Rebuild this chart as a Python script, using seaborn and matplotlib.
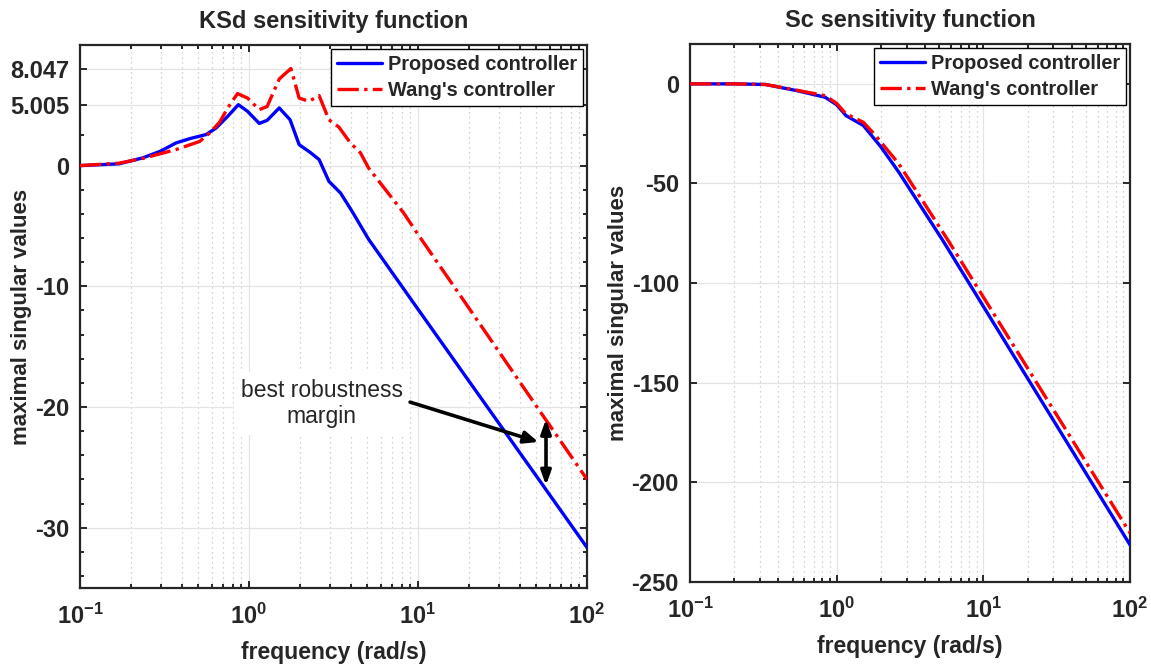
import numpy as np
import pandas as pd
import matplotlib
matplotlib.use("Agg")
import matplotlib.pyplot as plt
import seaborn as sns
from matplotlib.ticker import FixedLocator, LogLocator, NullFormatter, FixedFormatter

# ---------------- data ----------------
ksd_freq_proposed = [0.1, 0.17, 0.235, 0.30, 0.37, 0.45, 0.556, 0.637, 0.75, 0.865,
                     0.98, 1.15, 1.28, 1.51, 1.75, 1.98, 2.3, 2.6, 2.97, 3.48, 4.07,
                     5.1, 10.0, 20.0, 50.0, 100.0]
ksd_proposed = [0.0, 0.15, 0.64, 1.2, 1.88, 2.25, 2.57, 3.1, 4.1, 5.05,
                4.5, 3.5, 3.75, 4.78, 3.8, 1.74, 1.1, 0.5, -1.3, -2.27, -3.78,
                -6.1, -11.9, -17.85, -25.7, -31.65]

ksd_freq_wang = [0.1, 0.17, 0.235, 0.37, 0.51, 0.585, 0.67, 0.75, 0.855, 0.98,
                 1.15, 1.28, 1.51, 1.77, 1.98, 2.26, 2.6, 2.97, 3.4, 3.98, 4.57,
                 5.1, 8.2, 10.0, 20.0, 50.0, 100.0]
ksd_wang = [0.0, 0.2, 0.6, 1.33, 2.0, 2.7, 3.6, 4.8, 5.97, 5.6,
            4.64, 4.9, 7.18, 8.047, 5.6, 5.33, 5.8, 3.8, 3.2, 1.88, 1.05,
            -0.2, -3.9, -5.7, -11.8, -19.9, -26.0]

sc_freq_proposed = [0.1, 0.2, 0.326, 0.535, 0.832, 1.0, 1.156, 1.52, 2.01, 2.65,
                    5.28, 10.0, 100.0]
sc_proposed = [0.0, 0.0, -0.3, -3.4, -6.7, -10.5, -15.9, -20.9, -31.8, -44.3,
               -78.5, -111.7, -231.4]

sc_freq_wang = [0.1, 0.2, 0.326, 0.535, 0.832, 1.0, 1.156, 1.52, 1.80, 2.65,
                5.74, 10.0, 100.0]
sc_wang = [0.0, 0.0, -0.3, -3.2, -5.9, -9.8, -15.0, -19.3, -25.1, -40.1,
           -78.5, -107.0, -225.4]

legend_labels = ["Proposed controller", "Wang's controller"]
titles = ["KSd sensitivity function", "Sc sensitivity function"]
xlabel_text = "frequency (rad/s)"
ylabel_text = "maximal singular values"
xticks = [0.1, 1, 10, 100]
xticklabels = [r"$\mathbf{10^{-1}}$", r"$\mathbf{10^{0}}$", r"$\mathbf{10^{1}}$", r"$\mathbf{10^{2}}$"]
ksd_yticks = [-30, -20, -10, 0, 5.005, 8.047]
ksd_yticklabels = ["-30", "-20", "-10", "0", "5.005", "8.047"]
ksd_yminor = [-34, -32, -28, -26, -24, -22, -18, -16, -14, -12, -8, -6, -4, -2, 2.5]
sc_yticks = [-250, -200, -150, -100, -50, 0]
sc_yticklabels = ["-250", "-200", "-150", "-100", "-50", "0"]
annotation_text = "best robustness\nmargin"
annotation_text_pos = (2.70, -19.7)
annotation_arrow_tail = (8.98, -19.6)
annotation_arrow_tip = (51.5, -22.9)
margin_freq = 57.2
margin_top = -21.0
margin_bottom = -26.5

# ---------------- style ----------------
sns.set_theme(style="white")
plt.rcParams["font.family"] = ["Liberation Sans", "DejaVu Sans"]
plt.rcParams["mathtext.fontset"] = "custom"
plt.rcParams["mathtext.bf"] = "Liberation Sans:bold"
plt.rcParams["mathtext.rm"] = "Liberation Sans:bold"
plt.rcParams["axes.unicode_minus"] = False
plt.rcParams["axes.edgecolor"] = "#262626"
plt.rcParams["xtick.color"] = "#262626"
plt.rcParams["ytick.color"] = "#262626"

BLUE = "#0000ff"
RED = "#ff0000"
TICK_FS = 17
LABEL_FS = 16.5
YLABEL_FS = 16
TITLE_FS = 17
LEG_FS = 14.4

fig = plt.figure(figsize=(11.51, 6.64), dpi=100, facecolor="white")
ax1 = fig.add_axes([0.0695, 0.1145, 0.4405, 0.8178])
ax2 = fig.add_axes([0.5995, 0.1235, 0.3823, 0.8102])

df_ksd_p = pd.DataFrame({"f": ksd_freq_proposed, "v": ksd_proposed})
df_ksd_w = pd.DataFrame({"f": ksd_freq_wang, "v": ksd_wang})
df_sc_p = pd.DataFrame({"f": sc_freq_proposed, "v": sc_proposed})
df_sc_w = pd.DataFrame({"f": sc_freq_wang, "v": sc_wang})

for ax, dp, dw in [(ax1, df_ksd_p, df_ksd_w), (ax2, df_sc_p, df_sc_w)]:
    sns.lineplot(data=dp, x="f", y="v", ax=ax, color=BLUE, linewidth=2.4,
                 label=legend_labels[0], zorder=3)
    sns.lineplot(data=dw, x="f", y="v", ax=ax, color=RED, linewidth=2.4,
                 linestyle="-.", label=legend_labels[1], zorder=4)

for ax, title in [(ax1, titles[0]), (ax2, titles[1])]:
    ax.set_xscale("log")
    ax.set_xlim(0.1, 100)
    ax.xaxis.set_major_locator(FixedLocator(xticks))
    ax.xaxis.set_major_formatter(FixedFormatter(xticklabels))
    ax.xaxis.set_minor_locator(LogLocator(base=10, subs=np.arange(2, 10), numticks=20))
    ax.xaxis.set_minor_formatter(NullFormatter())
    ax.set_title(title, fontsize=TITLE_FS, fontweight="bold", pad=12)
    ax.set_xlabel(xlabel_text, fontsize=LABEL_FS, fontweight="bold", labelpad=9)
    ax.set_ylabel(ylabel_text, fontsize=YLABEL_FS, fontweight="bold")
    ax.grid(True, which="major", color="#e3e3e3", linewidth=0.9, linestyle="-")
    ax.grid(True, which="minor", axis="x", color="#c4c4c4", linewidth=0.9,
            linestyle=(0, (1, 3)))
    ax.set_axisbelow(True)
    ax.tick_params(which="both", direction="in", top=True, right=True,
                   bottom=True, left=True, width=1.4)
    ax.tick_params(which="major", length=5, labelsize=TICK_FS)
    ax.tick_params(axis="x", which="major", pad=11)
    ax.tick_params(axis="y", which="major", pad=8)
    ax.tick_params(which="minor", length=3)
    for s in ax.spines.values():
        s.set_linewidth(1.6)
        s.set_color("#262626")
    leg = ax.legend(loc="upper right", frameon=True, fancybox=False,
                    framealpha=1, edgecolor="black", borderaxespad=0.2,
                    handlelength=2.25, handletextpad=0.3, borderpad=0.3,
                    labelspacing=0.35, prop={"weight": "bold", "size": LEG_FS})
    leg.get_frame().set_linewidth(1.0)

ax1.set_ylim(-35, 10)
ax1.set_yticks(ksd_yticks)
ax1.set_yticklabels(ksd_yticklabels, fontweight="bold", fontsize=TICK_FS)
ax1.yaxis.set_minor_locator(FixedLocator(ksd_yminor))
ax1.yaxis.set_label_coords(-0.094, 0.5)

ax2.set_ylim(-250, 20)
ax2.set_yticks(sc_yticks)
ax2.set_yticklabels(sc_yticklabels, fontweight="bold", fontsize=TICK_FS)
ax2.yaxis.set_minor_locator(FixedLocator([]))
ax2.yaxis.set_label_coords(-0.138, 0.5)

for ax in (ax1, ax2):
    for lab in ax.get_xticklabels():
        lab.set_fontsize(TICK_FS)

# annotation
ax1.text(annotation_text_pos[0], annotation_text_pos[1], annotation_text,
         ha="center", va="center", fontsize=16.5, linespacing=1.15,
         bbox=dict(boxstyle="square,pad=0.3", fc="white", ec="none"), zorder=5)
ax1.annotate("", xy=annotation_arrow_tip, xytext=annotation_arrow_tail,
             arrowprops=dict(arrowstyle="-|>,head_length=0.7,head_width=0.3",
                             lw=2.6, color="black", shrinkA=0, shrinkB=0),
             zorder=6)
ax1.annotate("", xy=(margin_freq, margin_bottom), xytext=(margin_freq, margin_top),
             arrowprops=dict(arrowstyle="<|-|>,head_length=0.7,head_width=0.25",
                             lw=2.6, color="black", shrinkA=0, shrinkB=0),
             zorder=6)

fig.savefig("out.png", dpi=100, facecolor="white")
